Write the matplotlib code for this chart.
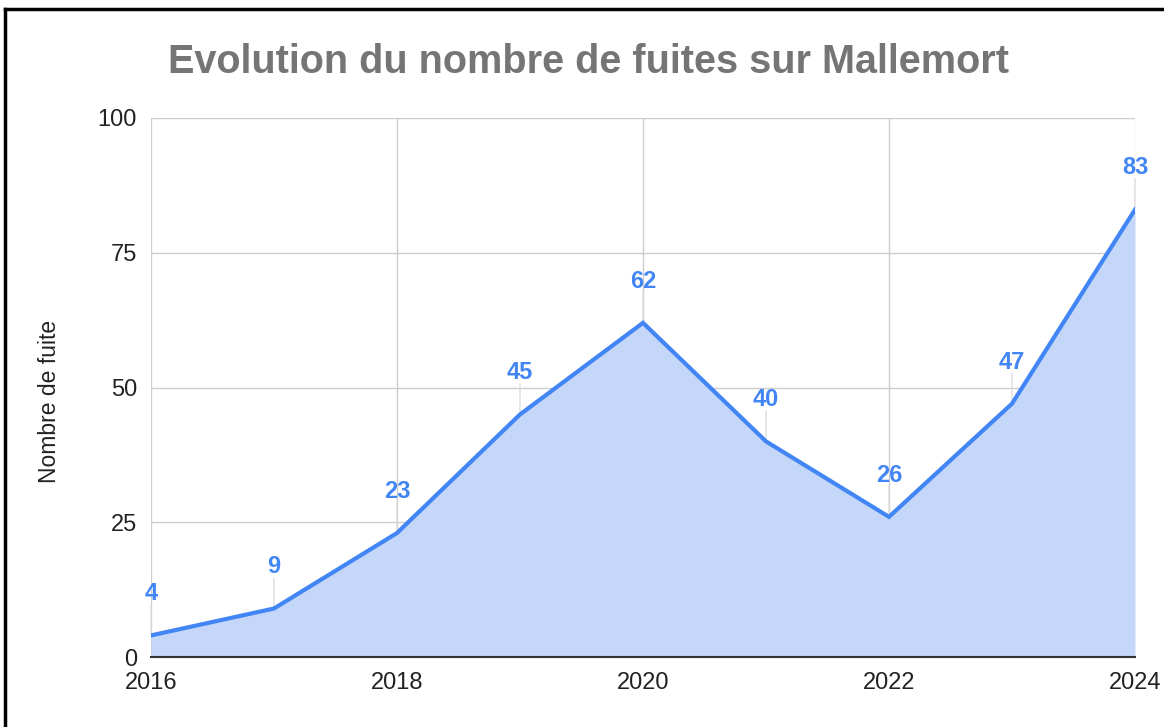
import matplotlib.pyplot as plt
from matplotlib.lines import Line2D

# data
years = [2016, 2017, 2018, 2019, 2020, 2021, 2022, 2023, 2024]
fuites = [4, 9, 23, 45, 62, 40, 26, 47, 83]
xticks = [2016, 2018, 2020, 2022, 2024]
yticks = [0, 25, 50, 75, 100]

blue = '#4285F4'

plt.rcParams['font.family'] = ['Liberation Sans', 'DejaVu Sans']

fig = plt.figure(figsize=(11.64, 7.27), dpi=100)
ax = fig.add_axes([151/1164, 1 - 657/727, (1135 - 151)/1164, (657 - 118)/727])

ax.fill_between(years, fuites, 0, color='#C4D7F8', lw=0, zorder=2)
ax.plot(years, fuites, color=blue, lw=3, zorder=3, solid_joinstyle='miter')

# data labels with small leader lines
for x, y in zip(years, fuites):
    ax.annotate('', xy=(x, y), xytext=(0, 22), textcoords='offset points',
                arrowprops=dict(arrowstyle='-', color='#dddddd', lw=1,
                                shrinkA=0, shrinkB=1), zorder=1)
    ax.annotate(str(y), xy=(x, y), xytext=(0, 30), textcoords='offset points',
                ha='center', va='center', color=blue, fontsize=17,
                fontweight='bold', zorder=4)

ax.set_xlim(2016, 2024)
ax.set_ylim(0, 100)
ax.set_xticks(xticks)
ax.set_yticks(yticks)
ax.set_xticklabels([str(t) for t in xticks])
ax.tick_params(length=0, labelsize=17, colors='#222222')
ax.tick_params(axis='x', pad=11)
ax.tick_params(axis='y', pad=10)
ax.grid(True, color='#cccccc', lw=1, zorder=0)
ax.set_axisbelow(True)
for s in ['left', 'right', 'top']:
    ax.spines[s].set_visible(False)
ax.spines['bottom'].set_color('#333333')
ax.spines['bottom'].set_linewidth(1.5)
ax.spines['bottom'].set_zorder(5)

ax.set_ylabel('Nombre de fuite', fontsize=16.5, color='#222222')
ax.yaxis.set_label_coords(-90/984, 0.475)

fig.text(589/1164, 1 - 62/727, 'Evolution du nombre de fuites sur Mallemort',
         ha='center', va='center', fontsize=28.5, fontweight='bold', color='#757575')

# screenshot border on left and top
fig.add_artist(Line2D([5/1164, 5/1164], [0, 1 - 9/727], color='black', lw=2.5,
                      transform=fig.transFigure))
fig.add_artist(Line2D([5/1164, 1], [1 - 9/727, 1 - 9/727], color='black', lw=2.5,
                      transform=fig.transFigure))

fig.savefig('out.png', dpi=100)
